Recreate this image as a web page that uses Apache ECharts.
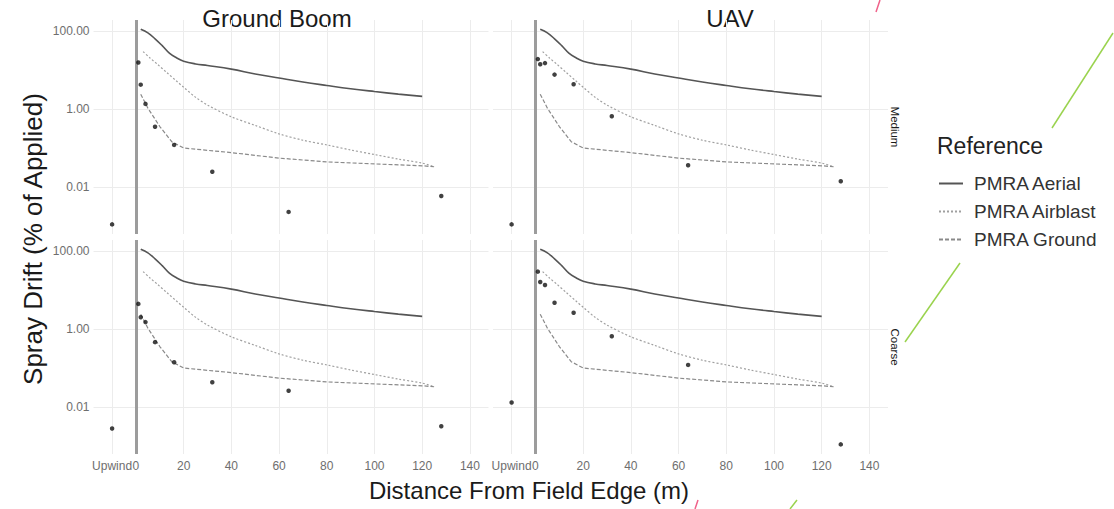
<!DOCTYPE html>
<html>
<head>
<meta charset="utf-8">
<script src="https://cdn.jsdelivr.net/npm/echarts@6/dist/echarts.min.js"></script>
<style>
  html, body { margin: 0; padding: 0; background: #fff; }
  #chart { width: 1114px; height: 509px; }
</style>
</head>
<body>
<div id="chart"></div>
<script>
// sample positions (m); -10 stands for the upwind sample
const sampleX = [-10, 1, 2, 4, 8, 16, 32, 64, 128];
const xTicks = [-10, 0, 20, 40, 60, 80, 100, 120, 140];

// observed drift (% of applied)
const groundBoomMedium = [0.0011, 15.5, 4.2, 1.35, 0.35, 0.12, 0.0245, 0.0023, 0.0059];
const groundBoomCoarse = [0.0028, 4.4, 2.0, 1.5, 0.46, 0.14, 0.043, 0.026, 0.0032];
const uavMedium = [0.0011, 19, 14, 15, 7.6, 4.3, 0.65, 0.036, 0.014];
const uavCoarse = [0.013, 29.5, 16, 13.4, 4.7, 2.6, 0.65, 0.12, 0.0011];

// PMRA reference curves
const aerialX = [2, 5, 8, 11, 14, 17, 20, 25, 30, 40, 50, 60, 70, 80, 90, 100, 110, 120];
const aerialY = [110, 89, 63, 42, 27, 20.5, 16.8, 14.3, 13.0, 10.5, 7.9, 6.2, 4.9, 4.0, 3.3, 2.8, 2.4, 2.1];
const airblastX = [3, 6, 9, 13, 17, 20, 25, 30, 40, 50, 60, 70, 80, 90, 100, 110, 120, 125];
const airblastY = [29.5, 20, 14, 8.5, 5.2, 3.6, 2.0, 1.26, 0.63, 0.38, 0.23, 0.158, 0.12, 0.089, 0.068, 0.052, 0.041, 0.033];
const groundX = [2, 5, 10, 15, 20, 40, 60, 80, 100, 120, 125];
const groundY = [2.4, 1.05, 0.355, 0.145, 0.1, 0.076, 0.055, 0.044, 0.039, 0.035, 0.033];

const FONT = '"Liberation Sans", Arial, sans-serif';
const GRID_COLOR = '#ececec';

const panels = [
  { left: 93.5, top: 20, obs: groundBoomMedium, showY: true, showX: false },
  { left: 493, top: 20, obs: uavMedium, showY: false, showX: false },
  { left: 93.5, top: 240, obs: groundBoomCoarse, showY: true, showX: true },
  { left: 493, top: 240, obs: uavCoarse, showY: false, showX: true }
];

function zip(xs, ys) {
  return xs.map((x, i) => [x, ys[i]]);
}

const chart = echarts.init(document.getElementById('chart'), null, { renderer: 'svg' });

const grids = [], xAxes = [], yAxes = [], series = [];

panels.forEach((p, i) => {
  grids.push({ left: p.left, top: p.top, width: 395, height: 214 });

  xAxes.push({
    type: 'value',
    gridIndex: i,
    min: -17.8,
    max: 147.8,
    axisLine: { show: false },
    axisTick: { show: false, customValues: xTicks },
    axisLabel: {
      show: p.showX,
      customValues: xTicks,
      color: '#6e6e6e',
      fontSize: 12,
      fontFamily: FONT,
      margin: 6,
      formatter: v => (v === -10 ? 'Upwind' : String(v))
    },
    splitLine: { show: true, lineStyle: { color: GRID_COLOR, width: 1 } }
  });

  yAxes.push({
    type: 'log',
    logBase: 100,
    gridIndex: i,
    min: 0.000624,
    max: 191,
    axisLine: { show: false },
    axisTick: { show: false },
    axisLabel: {
      show: p.showY,
      color: '#6e6e6e',
      fontSize: 12,
      fontFamily: FONT,
      margin: 4,
      showMinLabel: false,
      showMaxLabel: false,
      formatter: v => Number(v).toFixed(2)
    },
    splitLine: {
      show: true,
      showMinLine: false,
      showMaxLine: false,
      lineStyle: { color: GRID_COLOR, width: 1 }
    }
  });

  series.push({
    name: 'PMRA Aerial',
    type: 'line',
    xAxisIndex: i,
    yAxisIndex: i,
    data: zip(aerialX, aerialY),
    smooth: 0.4,
    symbol: 'none',
    lineStyle: { color: '#555', width: 1.6, type: 'solid' },
    itemStyle: { color: '#555' }
  });
  series.push({
    name: 'PMRA Airblast',
    type: 'line',
    xAxisIndex: i,
    yAxisIndex: i,
    data: zip(airblastX, airblastY),
    smooth: 0.3,
    symbol: 'none',
    lineStyle: { color: '#a0a0a0', width: 1.2, type: [2, 2] },
    itemStyle: { color: '#a0a0a0' }
  });
  series.push({
    name: 'PMRA Ground',
    type: 'line',
    xAxisIndex: i,
    yAxisIndex: i,
    data: zip(groundX, groundY),
    symbol: 'none',
    lineStyle: { color: '#8a8a8a', width: 1.2, type: [4, 2] },
    itemStyle: { color: '#8a8a8a' }
  });
  series.push({
    name: 'Observed',
    type: 'scatter',
    xAxisIndex: i,
    yAxisIndex: i,
    data: zip(sampleX, p.obs),
    symbolSize: 4.5,
    itemStyle: { color: '#111' },
    z: 5,
    markLine: {
      silent: true,
      symbol: ['none', 'none'],
      label: { show: false },
      lineStyle: { color: '#9c9c9c', width: 3, type: 'solid' },
      data: [{ xAxis: 0 }]
    }
  });
});

function text(str, x, y, size, opts) {
  return Object.assign({
    type: 'text',
    x: x,
    y: y,
    silent: true,
    style: {
      text: str,
      font: size + 'px ' + FONT,
      fill: '#1a1a1a',
      textAlign: 'center',
      textVerticalAlign: 'middle'
    }
  }, opts || {});
}

function deco(x1, y1, x2, y2, color) {
  return {
    type: 'line',
    silent: true,
    shape: { x1: x1, y1: y1, x2: x2, y2: y2 },
    style: { stroke: color, lineWidth: 1.5 }
  };
}

const refTitle = text('Reference', 937, 146, 23);
refTitle.style.textAlign = 'left';
refTitle.style.fill = '#222';

chart.setOption({
  animation: false,
  backgroundColor: '#fff',
  grid: grids,
  xAxis: xAxes,
  yAxis: yAxes,
  legend: {
    data: ['PMRA Aerial', 'PMRA Airblast', 'PMRA Ground'],
    orient: 'vertical',
    left: 933,
    top: 169,
    itemWidth: 24,
    itemHeight: 14,
    itemGap: 9,
    selectedMode: false,
    itemStyle: { color: 'rgba(0,0,0,0)', borderWidth: 0, opacity: 0 },
    textStyle: { fontSize: 19, color: '#333', fontFamily: FONT, padding: [0, 0, 0, 6] }
  },
  graphic: [
    text('Ground Boom', 277, 18, 24),
    text('UAV', 730, 18, 24),
    text('Spray Drift (% of Applied)', 33, 239, 26, { rotation: Math.PI / 2 }),
    text('Distance From Field Edge (m)', 529, 490, 24),
    text('Medium', 895, 127, 11.5, { rotation: -Math.PI / 2 }),
    text('Coarse', 895, 347, 11.5, { rotation: -Math.PI / 2 }),
    refTitle,
    deco(880, 0, 876, 12, '#f0628a'),
    deco(1113, 33, 1052, 128, '#9ad34e'),
    deco(960, 263, 905, 342, '#9ad34e'),
    deco(698, 500, 695, 509, '#f0628a'),
    deco(797, 500, 790, 509, '#9ad34e')
  ],
  series: series
});
</script>
</body>
</html>
